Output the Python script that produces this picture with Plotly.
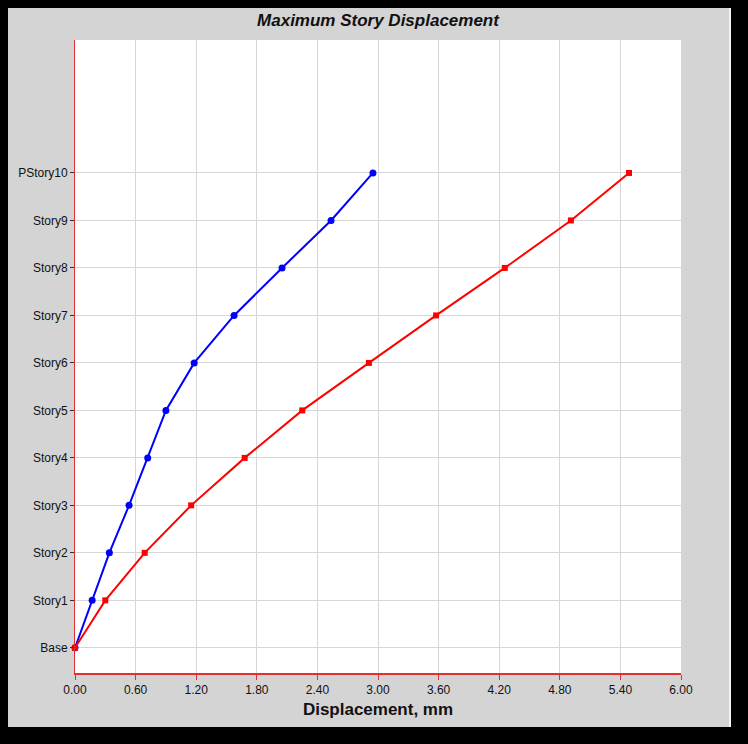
import plotly.graph_objects as go

stories = ["Base", "Story1", "Story2", "Story3", "Story4", "Story5",
           "Story6", "Story7", "Story8", "Story9", "PStory10"]
disp_x = [0.0, 0.17, 0.34, 0.535, 0.72, 0.90, 1.18, 1.575, 2.05, 2.535, 2.95]
disp_y = [0.0, 0.30, 0.69, 1.15, 1.68, 2.25, 2.91, 3.575, 4.255, 4.91, 5.485]
x_ticks = [0.0, 0.6, 1.2, 1.8, 2.4, 3.0, 3.6, 4.2, 4.8, 5.4, 6.0]

# page body adds an 8px offset, so work in figure pixels = window - 8
OFF = 8
W, H = 748, 744
L, T = 75 - OFF, 40 - OFF
R, B = W - (681 - OFF), H - (673 - OFF)
pw, ph = W - L - R, H - T - B


def px(x):
    return (x - OFF - L) / pw


def py(y):
    return (H - B - (y - OFF)) / ph


levels = list(range(len(stories)))
font = "Liberation Sans, Arial, sans-serif"

fig = go.Figure()

fig.add_trace(go.Scatter(
    x=disp_x, y=levels, mode="lines+markers", name="X",
    line=dict(color="#0000ff", width=2),
    marker=dict(symbol="circle", size=7, color="#0000ff"),
    showlegend=False, cliponaxis=False
))
fig.add_trace(go.Scatter(
    x=disp_y, y=levels, mode="lines+markers", name="Y",
    line=dict(color="#ff0000", width=2),
    marker=dict(symbol="square", size=6, color="#ff0000"),
    showlegend=False, cliponaxis=False
))

# grey panel and white plotting area
fig.add_shape(type="rect", xref="paper", yref="paper",
              x0=px(8), x1=px(730), y0=py(727), y1=py(8),
              fillcolor="#d4d4d4", line=dict(width=0), layer="below")
fig.add_shape(type="rect", xref="paper", yref="paper",
              x0=px(729), x1=px(731), y0=py(727), y1=py(8),
              fillcolor="#f4f4f4", line=dict(width=0), layer="below")
fig.add_shape(type="rect", xref="paper", yref="paper",
              x0=0, x1=1, y0=0, y1=1,
              fillcolor="white", line=dict(width=0), layer="below")

fig.update_layout(
    width=W, height=H,
    margin=dict(l=L, r=R, t=T, b=B, autoexpand=False),
    paper_bgcolor="black",
    plot_bgcolor="rgba(0,0,0,0)",
    title=dict(text="<b><i>Maximum Story Displacement</i></b>",
               x=0.5, xanchor="center", xref="paper",
               y=1 - (20 - OFF) / H, yanchor="middle",
               font=dict(family=font, size=17, color="#111")),
    font=dict(family=font, size=12, color="#111"),
    xaxis=dict(
        range=[0, 6], tickvals=x_ticks, tickformat=".2f", automargin=False,
        showgrid=True, gridcolor="#d6d6d6", gridwidth=1,
        zeroline=False, showline=True, linecolor="#e03030", linewidth=2,
        ticks="outside", ticklen=5, tickcolor="#e03030",
        tickfont=dict(size=12, color="#111"),
        title=dict(text="<b>Displacement, mm</b>", standoff=7,
                   font=dict(family=font, size=17, color="#111")),
    ),
    yaxis=dict(
        range=[-0.53, 12.8], tickvals=levels, ticktext=stories, automargin=False,
        showgrid=True, gridcolor="#d6d6d6", gridwidth=1,
        zeroline=False, showline=True, linecolor="#e03030", linewidth=1,
        ticks="outside", ticklen=4, tickcolor="#333",
        tickfont=dict(size=12, color="#111"),
    ),
)

fig.write_html("out.html", post_script="document.body.style.background = 'black';")
